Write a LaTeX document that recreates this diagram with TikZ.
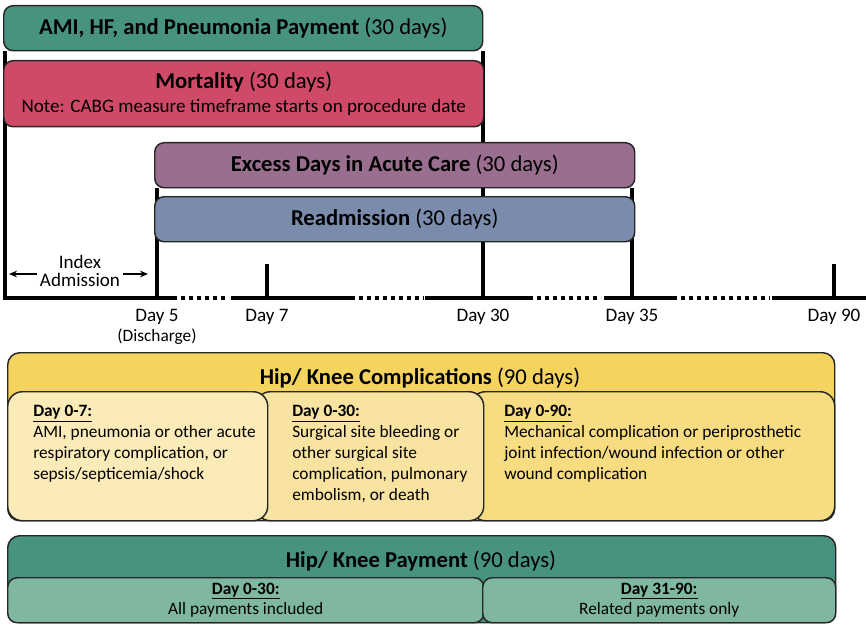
\documentclass[tikz,border=0pt]{standalone}
\usepackage{fontspec}
\setmainfont{Carlito}
\usetikzlibrary{positioning,calc,arrows.meta,backgrounds}

\definecolor{amigreen}{HTML}{47937F}
\definecolor{mortred}{HTML}{CF4A67}
\definecolor{edacpurple}{HTML}{9A6E8E}
\definecolor{readmblue}{HTML}{7A8BAB}
\definecolor{hkyellow}{HTML}{F4D35E}
\definecolor{hkfirst}{HTML}{FAEBB8}
\definecolor{hksecond}{HTML}{F9E3A0}
\definecolor{hkthird}{HTML}{F8DC82}
\definecolor{paylight}{HTML}{7FB7A1}

\newcommand{\px}{0.75pt}
\newcommand{\ttlfont}{\fontsize{17}{19}\selectfont}
\newcommand{\txtfont}{\fontsize{13}{15.7}\selectfont}
\newcommand{\lblfont}{\fontsize{14.3}{13.5}\selectfont}

\begin{document}
\begin{tikzpicture}[x=0.75pt,y=-0.75pt,
    bar/.style={draw=black!85, line width=1.1pt, rounded corners=7pt, anchor=north west,
      inner sep=0pt, align=center, font=\ttlfont},
    vline/.style={line width=2.4pt},
    axis/.style={line width=3pt},
    gap/.style={line width=3pt, dash pattern=on 3pt off 3pt},
    daylbl/.style={font=\lblfont, align=center, inner sep=0pt, anchor=north},
    blocktxt/.style={font=\txtfont, align=left, inner sep=0pt, anchor=north west},
    arr/.style={-{Stealth[length=6pt,width=5pt]}, line width=1.4pt}
  ]
  \useasboundingbox (0,0) rectangle (866,624);

  \coordinate (d0) at (5,298);
  \coordinate (d5) at (157,298);
  \coordinate (d7) at (267,298);
  \coordinate (d30) at (483,298);
  \coordinate (d35) at (632,298);
  \coordinate (d90) at (834,298);

  \node[bar, fill=amigreen, minimum width=479*\px, minimum height=45*\px] (ami) at (3,5)
    {\textbf{AMI, HF, and Pneumonia Payment} (30 days)};
  \node[bar, fill=mortred, minimum width=480*\px, minimum height=66*\px] (mort) at (3,60)
    {\textbf{Mortality} (30 days)\\[-1pt] {\lblfont Note: CABG measure timeframe starts on procedure date}};
  \node[bar, fill=edacpurple, minimum width=480*\px, minimum height=45*\px] (edac) at (154,142)
    {\textbf{Excess Days in Acute Care} (30 days)};
  \node[bar, fill=readmblue, minimum width=480*\px, minimum height=45*\px] (readm) at (154,196)
    {\textbf{Readmission} (30 days)};

  \begin{pgfonlayer}{background}
    \draw[vline] (d0 |- ami.south) -- (d0);
    \draw[vline] (d30 |- ami.south) -- (d30);
    \draw[vline] (d5 |- edac.south) -- (d5);
    \draw[vline] (d35 |- edac.south) -- (d35);
  \end{pgfonlayer}
  \draw[vline] ($(d7)+(0,-34)$) -- (d7);
  \draw[vline] ($(d90)+(0,-34)$) -- (d90);

  \foreach \a/\b in {3/177, 231/355, 425/533, 604/677, 772/866}
    \draw[axis] (\a,298) -- (\b,298);
  \foreach \a/\b in {181/229, 359/424, 537/601, 681/770}
    \draw[gap] (\a,298) -- (\b,298);

  \node[font=\lblfont, align=center, inner sep=0pt] (idx) at (80,271) {Index\\Admission};
  \coordinate (idxl) at (9,274);
  \coordinate (idxr) at (148,274);
  \draw[arr] ($(idx.west |- idxl)+(-3,0)$) -- (idxl);
  \draw[arr] ($(idx.east |- idxr)+(3,0)$) -- (idxr);

  \node[daylbl] (l5) at ($(d5)+(0,11)$) {Day 5\\[1.5pt] {\txtfont (Discharge)}};
  \node[daylbl] (l7) at ($(d7)+(0,11)$) {Day 7};
  \node[daylbl] (l30) at ($(d30)+(0,11)$) {Day 30};
  \node[daylbl] (l35) at ($(d35)+(0,11)$) {Day 35};
  \node[daylbl] (l90) at ($(d90)+(0,11)$) {Day 90};

  \node[bar, fill=hkyellow, minimum width=827*\px, minimum height=168*\px, rounded corners=9pt] (hkc) at (7,352) {};
  \node[font=\ttlfont, inner sep=0pt] (hkcttl) at (420,378) {\textbf{Hip/ Knee Complications} (90 days)};
  \node[bar, fill=hkthird, minimum width=364*\px, minimum height=129*\px, rounded corners=11pt] (hkc3) at (470,391) {};
  \node[bar, fill=hksecond, minimum width=228*\px, minimum height=129*\px, rounded corners=11pt] (hkc2) at (255,391) {};
  \node[bar, fill=hkfirst, minimum width=260*\px, minimum height=129*\px, rounded corners=11pt] (hkc1) at (7,391) {};

  \node[blocktxt] (hkt1) at (33,405) {\underline{\textbf{Day 0-7:}}\\ AMI, pneumonia or other acute\\ respiratory complication, or\\ sepsis/septicemia/shock};
  \node[blocktxt] (hkt2) at (292,405) {\underline{\textbf{Day 0-30:}}\\ Surgical site bleeding or\\ other surgical site\\ complication, pulmonary\\ embolism, or death};
  \node[blocktxt] (hkt3) at (504,405) {\underline{\textbf{Day 0-90:}}\\ Mechanical complication or periprosthetic\\ joint infection/wound infection or other\\ wound complication};

  \node[bar, fill=amigreen, minimum width=828*\px, minimum height=87*\px, rounded corners=9pt] (hkp) at (7,535) {};
  \node[font=\ttlfont, inner sep=0pt] (hkpttl) at (421,561) {\textbf{Hip/ Knee Payment} (90 days)};
  \node[bar, fill=paylight, minimum width=476*\px, minimum height=45*\px, font=\txtfont] (hkp1) at (7,577)
    {\underline{\textbf{Day 0-30:}}\\ All payments included};
  \node[bar, fill=paylight, minimum width=353*\px, minimum height=45*\px, font=\txtfont] (hkp2) at (482,577)
    {\underline{\textbf{Day 31-90:}}\\ Related payments only};
\end{tikzpicture}
\end{document}
